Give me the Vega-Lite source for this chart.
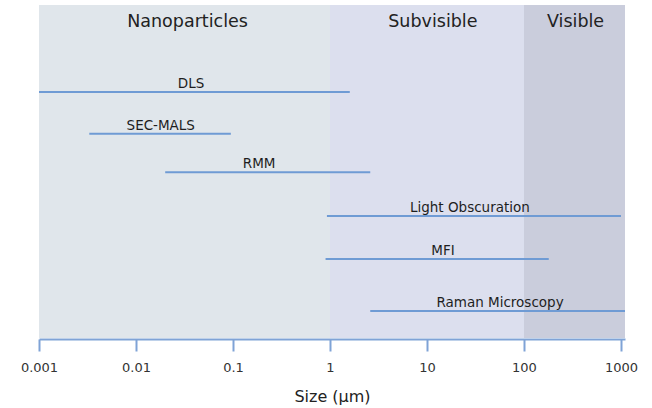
{
  "$schema": "https://vega.github.io/schema/vega-lite/v6.json",
  "width": 586,
  "height": 333,
  "autosize": {"type": "none"},
  "padding": {"left": 39, "top": 5, "right": 27, "bottom": 70},
  "background": "white",
  "config": {"view": {"stroke": null}, "font": "DejaVu Sans"},
  "datasets": {
    "regions": [
      {"region": "Nanoparticles", "start": 0.001, "end": 1, "labelX": 0.034, "labelY": 95},
      {"region": "Subvisible", "start": 1, "end": 100, "labelX": 11.5, "labelY": 95},
      {"region": "Visible", "start": 100, "end": 1100, "labelX": 340, "labelY": 95}
    ],
    "methods": [
      {"method": "DLS", "min": 0.001, "max": 1.6, "level": 73.9, "labelX": 0.037},
      {"method": "SEC-MALS", "min": 0.0033, "max": 0.095, "level": 61.3, "labelX": 0.018},
      {"method": "RMM", "min": 0.02, "max": 2.6, "level": 49.8, "labelX": 0.186},
      {"method": "Light Obscuration", "min": 0.93, "max": 1000, "level": 36.6, "labelX": 27.7},
      {"method": "MFI", "min": 0.9, "max": 180, "level": 23.7, "labelX": 14.6},
      {"method": "Raman Microscopy", "min": 2.6, "max": 1100, "level": 8.1, "labelX": 56.6}
    ]
  },
  "layer": [
    {
      "data": {"name": "regions"},
      "mark": {"type": "rect", "opacity": 1},
      "encoding": {
        "x": {
          "field": "start", "type": "quantitative",
          "scale": {"type": "log", "domain": [0.001, 1100], "nice": false},
          "axis": {
            "values": [0.001, 0.01, 0.1, 1, 10, 100, 1000],
            "labelExpr": "datum.value + ''",
            "title": "Size (µm)",
            "titleFont": "DejaVu Sans",
            "titleFontSize": 16,
            "titleFontWeight": "normal",
            "titleColor": "#222222",
            "titlePadding": 14,
            "domainColor": "#7fa3d6",
            "domainWidth": 2,
            "tickColor": "#7fa3d6",
            "tickWidth": 2,
            "tickSize": 12,
            "labelFont": "DejaVu Sans",
            "labelFontSize": 13,
            "labelColor": "#333333",
            "labelPadding": 10,
            "labelFlush": false,
            "grid": false,
            "offset": 1
          }
        },
        "x2": {"field": "end"},
        "y": {"value": 0},
        "y2": {"value": 333},
        "color": {
          "field": "region", "type": "nominal",
          "scale": {"domain": ["Nanoparticles", "Subvisible", "Visible"], "range": ["#e0e6eb", "#dcdfee", "#cacddc"]},
          "legend": null
        }
      }
    },
    {
      "data": {"name": "regions"},
      "mark": {"type": "text", "fontSize": 17.5, "color": "#222222", "baseline": "middle", "align": "center"},
      "encoding": {
        "x": {"field": "labelX", "type": "quantitative"},
        "y": {"field": "labelY", "type": "quantitative", "scale": {"domain": [0, 100], "nice": false}, "axis": null},
        "text": {"field": "region"}
      }
    },
    {
      "data": {"name": "methods"},
      "mark": {"type": "rule", "strokeWidth": 2, "color": "#6f9bd4"},
      "encoding": {
        "x": {"field": "min", "type": "quantitative"},
        "x2": {"field": "max"},
        "y": {"field": "level", "type": "quantitative"}
      }
    },
    {
      "data": {"name": "methods"},
      "mark": {"type": "text", "fontSize": 13.5, "color": "#1e1e1e", "baseline": "bottom", "align": "center", "dy": -1},
      "encoding": {
        "x": {"field": "labelX", "type": "quantitative"},
        "y": {"field": "level", "type": "quantitative"},
        "text": {"field": "method"}
      }
    }
  ]
}
